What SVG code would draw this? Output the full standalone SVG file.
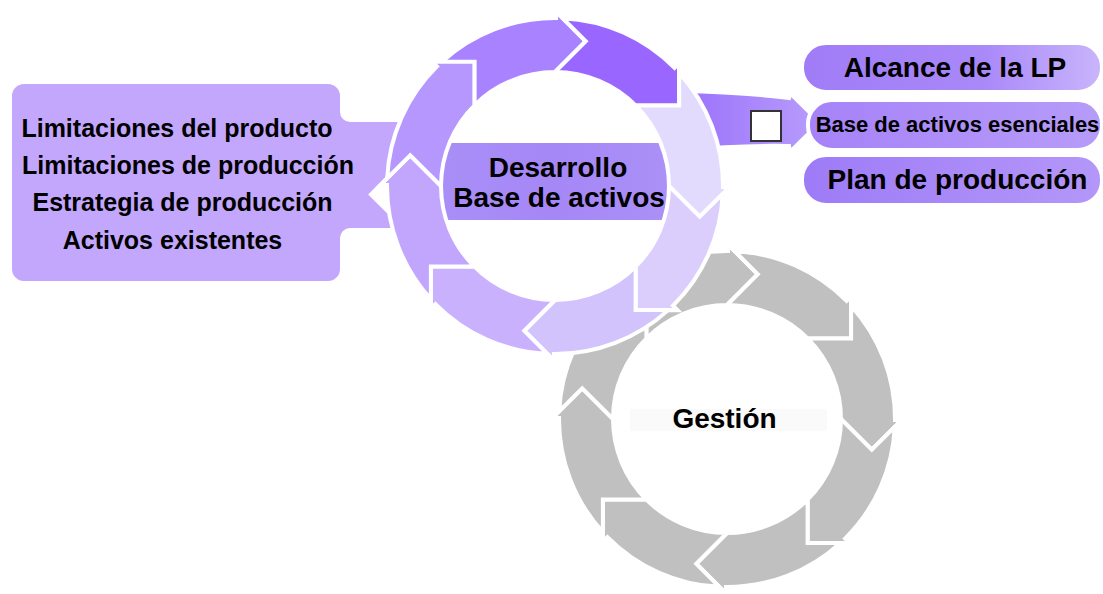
<svg xmlns="http://www.w3.org/2000/svg" xmlns:xlink="http://www.w3.org/1999/xlink" width="1103" height="594" viewBox="0 0 1103 594">
  <style>
    .seg { stroke: #ffffff; stroke-width: 4; stroke-linejoin: miter; }
    .gray { fill: #c0c0c0; }
    .lbl { font-family: "Liberation Sans", Arial, Helvetica, sans-serif; font-weight: bold; fill: #000000; text-anchor: middle; }
    .big { font-size: 28px; }
    .side { font-size: 25px; }
    .small { font-size: 22px; }
    .edge { stroke: #ffffff; stroke-width: 4; }
  </style>
  <defs>
    <!-- one chevron segment of a cycle ring, drawn around (0,0); Ro=168, Ri=114 -->
    <path id="seg" d="M -113.21,-124.12 A 168 168 0 0 1 1.07,-168 L 1.07,-174.47 L 30.77,-144.77 L 1.07,-115.07 L 1.07,-113.99 A 114 114 0 0 0 -80.61,-80.61 L -80.61,-124.12 Z"/>
    <linearGradient id="gConn" x1="0" y1="0" x2="1" y2="0">
      <stop offset="0" stop-color="#9a70fb"/>
      <stop offset="1" stop-color="#b89dfc"/>
    </linearGradient>
    <linearGradient id="gPill1" x1="0" y1="0" x2="1" y2="0">
      <stop offset="0" stop-color="#a07cf7"/>
      <stop offset="0.6" stop-color="#a988f8"/>
      <stop offset="1" stop-color="#c9b5fc"/>
    </linearGradient>
    <linearGradient id="gPill2" x1="0" y1="0" x2="1" y2="0">
      <stop offset="0" stop-color="#a682f8"/>
      <stop offset="1" stop-color="#b69cf9"/>
    </linearGradient>
    <linearGradient id="gPill3" x1="0" y1="0" x2="1" y2="0">
      <stop offset="0" stop-color="#9e7bf7"/>
      <stop offset="1" stop-color="#b497f9"/>
    </linearGradient>
    <linearGradient id="gCore" x1="0" y1="0" x2="1" y2="0">
      <stop offset="0" stop-color="#a98ef7"/>
      <stop offset="0.5" stop-color="#a587f6"/>
      <stop offset="1" stop-color="#ab90f7"/>
    </linearGradient>
  </defs>

  <!-- management cycle (gray), lies underneath -->
  <g id="node-gestion">
    <g transform="translate(727 419)">
      <use xlink:href="#seg" class="seg gray" transform="rotate(0)"/>
      <use xlink:href="#seg" class="seg gray" transform="rotate(45)"/>
      <use xlink:href="#seg" class="seg gray" transform="rotate(90)"/>
      <use xlink:href="#seg" class="seg gray" transform="rotate(135)"/>
      <use xlink:href="#seg" class="seg gray" transform="rotate(180)"/>
      <use xlink:href="#seg" class="seg gray" transform="rotate(225)"/>
      <use xlink:href="#seg" class="seg gray" transform="rotate(270)"/>
      <use xlink:href="#seg" class="seg gray" transform="rotate(315)"/>
    </g>
    <rect x="630" y="409" width="197" height="22" fill="#fafafa"/>
    <text class="lbl big" x="724.5" y="428">Gestión</text>
  </g>

  <!-- connector from the development cycle to the outputs -->
  <g id="connectors">
    <path class="edge" fill="url(#gConn)" d="M 680,91 Q 740,92 789,98 L 790,93 L 820,122.5 L 790,152 L 789,146 Q 745,145 680,150 Z"/>
  </g>

  <!-- inputs box -->
  <g id="node-inputs">
    <path class="edge" fill="#c3a7fc" d="M 24,82 H 328 A 14 14 0 0 1 342,96 V 112 A 8 8 0 0 0 350,120 H 410 L 412,153 L 371,194.4 L 402,225.4 L 402,230 H 350 A 8 8 0 0 0 342,238 V 269 A 14 14 0 0 1 328,283 H 24 A 14 14 0 0 1 10,269 V 96 A 14 14 0 0 1 24,82 Z"/>
    <text class="lbl side" x="177" y="137">Limitaciones del producto</text>
    <text class="lbl side" x="188" y="174">Limitaciones de producción</text>
    <text class="lbl side" x="182.5" y="211">Estrategia de producción</text>
    <text class="lbl side" x="172.5" y="249">Activos existentes</text>
  </g>

  <!-- development cycle (purple) -->
  <g id="node-desarrollo">
    <rect x="443" y="143" width="224" height="77" fill="url(#gCore)"/>
    <g transform="translate(555 186)">
      <use xlink:href="#seg" class="seg" fill="#a882ff" transform="rotate(0)"/>
      <use xlink:href="#seg" class="seg" fill="#9966ff" transform="rotate(45)"/>
      <use xlink:href="#seg" class="seg" fill="#e3dbfd" transform="rotate(90)"/>
      <use xlink:href="#seg" class="seg" fill="#dbcefc" transform="rotate(135)"/>
      <use xlink:href="#seg" class="seg" fill="#d3c3fd" transform="rotate(180)"/>
      <use xlink:href="#seg" class="seg" fill="#c9b1fe" transform="rotate(225)"/>
      <use xlink:href="#seg" class="seg" fill="#c2a6fe" transform="rotate(270)"/>
      <use xlink:href="#seg" class="seg" fill="#b597fe" transform="rotate(315)"/>
    </g>
    <text class="lbl big" x="558" y="177">Desarrollo</text>
    <text class="lbl big" x="559" y="207">Base de activos</text>
  </g>

  <!-- outputs -->
  <g id="node-alcance">
    <rect class="edge" x="802" y="43" width="300" height="49" rx="24" fill="url(#gPill1)"/>
    <text class="lbl big" x="955" y="77">Alcance de la LP</text>
  </g>
  <g id="node-base-esencial">
    <rect class="edge" x="808" y="100" width="294" height="50" rx="24" fill="url(#gPill2)"/>
    <text class="lbl small" x="957.5" y="132">Base de activos esenciales</text>
  </g>
  <g id="node-plan">
    <rect class="edge" x="802" y="155" width="300" height="50" rx="24" fill="url(#gPill3)"/>
    <text class="lbl big" x="957.5" y="189">Plan de producción</text>
  </g>

  <!-- small marker on the connector -->
  <g id="node-marker">
    <rect x="751" y="111" width="30" height="30" fill="#ffffff" stroke="#333333" stroke-width="2"/>
  </g>
</svg>
